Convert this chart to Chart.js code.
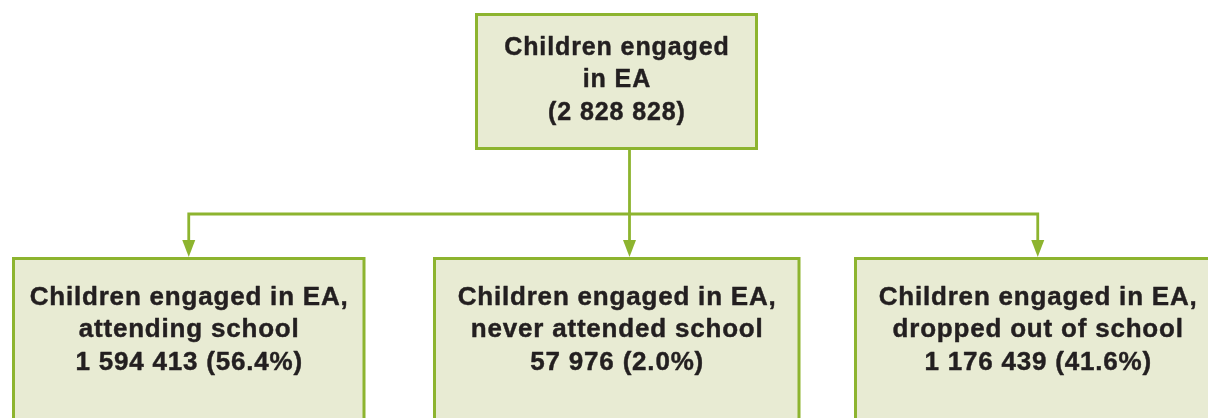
<!DOCTYPE html>
<html><head><meta charset="utf-8">
<script src="https://cdn.jsdelivr.net/npm/chart.js@4.4.1/dist/chart.umd.min.js"></script>
<style>html,body{margin:0;padding:0;background:#fff;overflow:hidden}canvas{display:block}</style>
</head><body><canvas id="c" width="1208" height="418"></canvas>
<script>
// ---- data ----
const rootLabel = ["Children engaged", "in EA"];
const rootValue = 2828828;
const childLabels = [
  ["Children engaged in EA,", "attending school"],
  ["Children engaged in EA,", "never attended school"],
  ["Children engaged in EA,", "dropped out of school"]
];
const childValues = [1594413, 57976, 1176439];
const childShares = [56.4, 2.0, 41.6];

// ---- layout (diagram geometry in scale units) ----
const LAYOUT = {
  root: { x0: 476.5, x1: 756.5, y0: 14.5, y1: 148.5, firstBaseline: 40.5, font: 25, spacing: 0.9 },
  children: [
    { x0: 13.5, x1: 364 },
    { x0: 434.5, x1: 799 },
    { x0: 855.5, x1: 1220 }
  ],
  childTop: 258.5, childBottom: 460, childFirstBaseline: 46.5, childFont: 26, childSpacing: 0.8,
  lineHeight: 32.3,
  trunkX: 629.5, branchY: 214,
  arrowLen: 17, arrowHalf: 6.5
};
const GREEN = '#8db42f', FILL = '#e8ebd3', TEXT = '#231f20';
const fmt = n => n.toLocaleString('en-US').replace(/,/g, ' ');

const childCenters = LAYOUT.children.map(b => (b.x0 + b.x1) / 2);
const tipY = LAYOUT.childTop - 1.5;
const baseY = tipY - LAYOUT.arrowLen + 1;

const trunk = [{ x: LAYOUT.trunkX, y: LAYOUT.root.y1 }, { x: LAYOUT.trunkX, y: baseY }];
const branch = [
  { x: childCenters[0], y: baseY },
  { x: childCenters[0], y: LAYOUT.branchY },
  { x: childCenters[2], y: LAYOUT.branchY },
  { x: childCenters[2], y: baseY }
];
const arrowTips = [childCenters[0], LAYOUT.trunkX, childCenters[2]];

const boxPlugin = {
  id: 'tree',
  beforeDatasetsDraw(chart) {
    const { ctx, scales: { x, y } } = chart;
    const box = (x0, y0, x1, y1) => {
      const px0 = x.getPixelForValue(x0), px1 = x.getPixelForValue(x1);
      const py0 = y.getPixelForValue(y0), py1 = y.getPixelForValue(y1);
      ctx.fillStyle = FILL;
      ctx.fillRect(px0, py0, px1 - px0, py1 - py0);
      ctx.strokeStyle = GREEN; ctx.lineWidth = 3;
      ctx.strokeRect(px0, py0, px1 - px0, py1 - py0);
    };
    ctx.save();
    const r = LAYOUT.root;
    box(r.x0, r.y0, r.x1, r.y1);
    LAYOUT.children.forEach(c => box(c.x0, LAYOUT.childTop, c.x1, LAYOUT.childBottom));
    ctx.restore();
  },
  afterDatasetsDraw(chart) {
    const { ctx, scales: { x, y } } = chart;
    ctx.save();
    // arrowheads
    ctx.fillStyle = GREEN;
    arrowTips.forEach(ax => {
      const px = x.getPixelForValue(ax);
      const pt = y.getPixelForValue(tipY), pb = y.getPixelForValue(tipY - LAYOUT.arrowLen);
      ctx.beginPath();
      ctx.moveTo(px, pt);
      ctx.lineTo(px - LAYOUT.arrowHalf, pb);
      ctx.lineTo(px + LAYOUT.arrowHalf, pb);
      ctx.closePath();
      ctx.fill();
    });
    // texts
    ctx.fillStyle = TEXT;
    ctx.strokeStyle = TEXT;
    ctx.lineWidth = 0.45;
    ctx.lineJoin = 'round';
    ctx.textAlign = 'center';
    ctx.textBaseline = 'alphabetic';
    const writeLines = (lines, cx, firstBaseline, size, spacing) => {
      ctx.font = 'bold ' + size + 'px "Liberation Sans", Arial, sans-serif';
      try { ctx.letterSpacing = spacing + 'px'; } catch (e) {}
      lines.forEach((t, i) => {
        const px = x.getPixelForValue(cx) + spacing / 2;
        const py = y.getPixelForValue(firstBaseline + i * LAYOUT.lineHeight);
        ctx.fillText(t, px, py);
        ctx.strokeText(t, px, py);
      });
    };
    const r = LAYOUT.root;
    writeLines([...rootLabel, '(' + fmt(rootValue) + ')'], (r.x0 + r.x1) / 2, r.y0 + r.firstBaseline, r.font, r.spacing);
    childLabels.forEach((lab, i) => {
      writeLines([...lab, fmt(childValues[i]) + ' (' + childShares[i].toFixed(1) + '%)'],
        childCenters[i], LAYOUT.childTop + LAYOUT.childFirstBaseline, LAYOUT.childFont, LAYOUT.childSpacing);
    });
    ctx.restore();
  }
};

new Chart(document.getElementById('c'), {
  type: 'scatter',
  data: {
    datasets: [
      { data: trunk, showLine: true, borderColor: GREEN, borderWidth: 2.8, pointRadius: 0, fill: false },
      { data: branch, showLine: true, borderColor: GREEN, borderWidth: 2.8, pointRadius: 0, fill: false,
        borderJoinStyle: 'miter' }
    ]
  },
  options: {
    responsive: false,
    animation: false,
    devicePixelRatio: 1,
    layout: { padding: 0 },
    plugins: { legend: { display: false }, tooltip: { enabled: false } },
    scales: {
      x: { type: 'linear', min: 0, max: 1208, display: false },
      y: { type: 'linear', min: 0, max: 418, reverse: true, display: false }
    }
  },
  plugins: [boxPlugin]
});
</script>
</body></html>
